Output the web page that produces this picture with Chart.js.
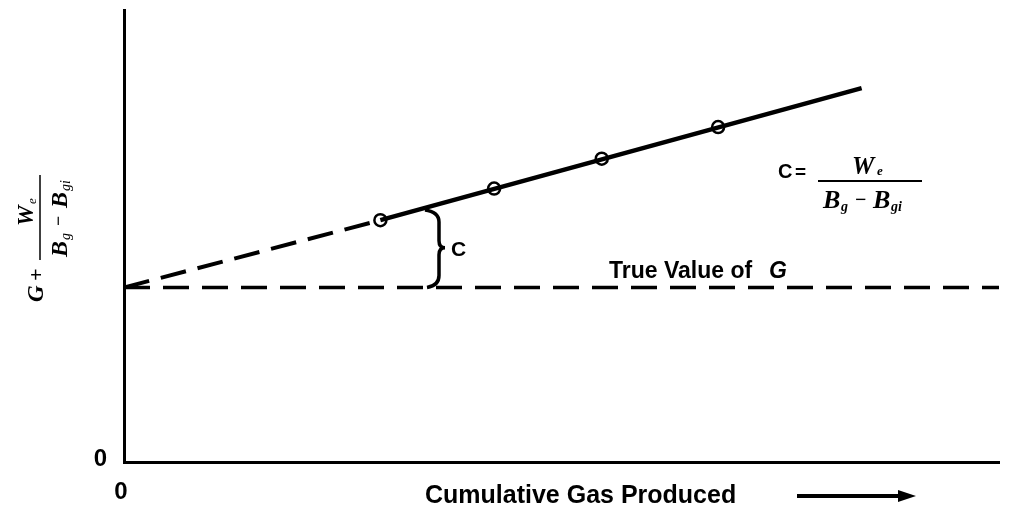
<!DOCTYPE html>
<html>
<head>
<meta charset="utf-8">
<script src="https://cdn.jsdelivr.net/npm/chart.js@4.4.0/dist/chart.umd.min.js"></script>
<style>
  html, body { margin: 0; padding: 0; background: #fff; }
  #wrap { width: 1009px; height: 510px; }
</style>
</head>
<body>
<div id="wrap"><canvas id="chart"></canvas></div>
<script>
// axis ranges (arbitrary units, only the zero is labelled)
var xRange = [0, 100];
var yRange = [0, 100];
var xTicks = [0];
var yTicks = [0];

// true value of G (horizontal dashed line)
var trueG = 38.6;
var trueGX = [0, 100];

// G + We/(Bg-Bgi) trend: extrapolated part (dashed) then measured part (solid)
var trendX = [0, 29.3, 84.3];
var trendY = [38.6, 53.5, 82.7];

// measured points
var pointX = [29.3, 42.3, 54.6, 67.9];
var pointY = [53.5, 60.5, 67.1, 74.1];

// where the C brace sits
var braceX = 34.4;

var sans = '"Liberation Sans", Arial, sans-serif';
var serif = '"Liberation Serif", "Times New Roman", serif';

function pts(xs, ys, from, to) {
    var out = [];
    for (var i = from; i <= to; i++) out.push({ x: xs[i], y: ys[i] });
    return out;
}

function txt(ctx, s, x, y, font) {
    ctx.font = font;
    ctx.fillText(s, x, y);
}

// value of the trend line at x (for the brace top)
function trendAt(x) {
    for (var i = 0; i < trendX.length - 1; i++) {
        if (x >= trendX[i] && x <= trendX[i + 1]) {
            var t = (x - trendX[i]) / (trendX[i + 1] - trendX[i]);
            return trendY[i] + t * (trendY[i + 1] - trendY[i]);
        }
    }
    return trendY[trendY.length - 1];
}

var extras = {
    id: 'extras',
    afterDraw: function (chart) {
        var ctx = chart.ctx;
        var xs = chart.scales.x, ys = chart.scales.y;
        ctx.save();
        ctx.fillStyle = '#000';
        ctx.strokeStyle = '#000';
        ctx.textBaseline = 'alphabetic';
        ctx.textAlign = 'left';

        // brace between the trend and the true G line
        var bx = xs.getPixelForValue(braceX);
        var yTop = ys.getPixelForValue(trendAt(braceX));
        var yBot = ys.getPixelForValue(trueG);
        var mid = (yTop + yBot) / 2;
        var sx = bx + 14;
        ctx.lineWidth = 3.5;
        ctx.beginPath();
        ctx.moveTo(bx, yTop + 2);
        ctx.quadraticCurveTo(sx, yTop + 4, sx, yTop + 14);
        ctx.lineTo(sx, mid - 7);
        ctx.quadraticCurveTo(sx, mid, sx + 6, mid);
        ctx.quadraticCurveTo(sx, mid, sx, mid + 7);
        ctx.lineTo(sx, yBot - 12);
        ctx.quadraticCurveTo(sx, yBot - 2, bx + 2, yBot);
        ctx.stroke();
        txt(ctx, 'C', sx + 12, mid + 8, 'bold 21px ' + sans);

        // label of the horizontal line
        txt(ctx, 'True Value of', 609, 278, 'bold 23px ' + sans);
        txt(ctx, 'G', 769, 278, 'italic bold 23px ' + sans);

        // formula for C
        txt(ctx, 'C', 778, 178, 'bold 20px ' + sans);
        txt(ctx, '=', 795, 178, 'bold 19px ' + sans);
        ctx.lineWidth = 2;
        ctx.beginPath();
        ctx.moveTo(818, 181);
        ctx.lineTo(922, 181);
        ctx.stroke();
        txt(ctx, 'W', 852, 174, 'italic bold 25px ' + serif);
        txt(ctx, 'e', 877, 175, 'italic bold 13px ' + serif);
        txt(ctx, 'B', 823, 208, 'italic bold 26px ' + serif);
        txt(ctx, 'g', 841, 211, 'italic bold 14px ' + serif);
        txt(ctx, '\u2212', 855, 206, 'bold 20px ' + serif);
        txt(ctx, 'B', 873, 208, 'italic bold 26px ' + serif);
        txt(ctx, 'gi', 891, 211, 'italic bold 14px ' + serif);

        // x axis title and arrow
        txt(ctx, 'Cumulative Gas Produced', 425, 503, 'bold 25px ' + sans);
        ctx.lineWidth = 4;
        ctx.beginPath();
        ctx.moveTo(797, 496);
        ctx.lineTo(902, 496);
        ctx.stroke();
        ctx.beginPath();
        ctx.moveTo(898, 490);
        ctx.lineTo(916, 496);
        ctx.lineTo(898, 502);
        ctx.closePath();
        ctx.fill();

        // y axis title, rotated: G + We / (Bg - Bgi)
        ctx.translate(40, 302);
        ctx.rotate(-Math.PI / 2);
        txt(ctx, 'G', 0, 3, 'italic bold 23px ' + serif);
        txt(ctx, '+', 21, 3, 'bold 22px ' + serif);
        ctx.lineWidth = 1.5;
        ctx.beginPath();
        ctx.moveTo(42, 0);
        ctx.lineTo(127, 0);
        ctx.stroke();
        txt(ctx, 'W', 76, -7, 'italic bold 23px ' + serif);
        txt(ctx, 'e', 98, -4, 'italic 13px ' + serif);
        txt(ctx, 'B', 45, 27, 'italic bold 24px ' + serif);
        txt(ctx, 'g', 62, 30, 'italic 14px ' + serif);
        txt(ctx, '\u2212', 76, 24, 'bold 18px ' + serif);
        txt(ctx, 'B', 94, 27, 'italic bold 24px ' + serif);
        txt(ctx, 'gi', 111, 30, 'italic 14px ' + serif);

        ctx.restore();
    }
};

var ctx = document.getElementById('chart');
var grafico = new Chart(ctx, {
    type: 'scatter',
    data: {
        datasets: [
            {
                label: 'True G',
                data: [{ x: trueGX[0], y: trueG }, { x: trueGX[1], y: trueG }],
                showLine: true,
                borderColor: '#000',
                borderWidth: 3.5,
                borderDash: [26, 13],
                pointRadius: 0
            },
            {
                label: 'Extrapolated',
                data: pts(trendX, trendY, 0, 1),
                showLine: true,
                borderColor: '#000',
                borderWidth: 4,
                borderDash: [26, 12],
                pointRadius: 0
            },
            {
                label: 'Measured trend',
                data: pts(trendX, trendY, 1, 2),
                showLine: true,
                borderColor: '#000',
                borderWidth: 4.5,
                pointRadius: 0
            },
            {
                label: 'Points',
                data: pts(pointX, pointY, 0, pointX.length - 1),
                showLine: false,
                pointRadius: 6,
                pointBorderWidth: 2.5,
                pointBackgroundColor: '#fff',
                pointBorderColor: '#000'
            }
        ]
    },
    options: {
        responsive: true,
        maintainAspectRatio: false,
        animation: false,
        layout: { padding: { left: 0, top: 10, right: 10, bottom: 0 } },
        plugins: {
            legend: { display: false },
            tooltip: { enabled: false }
        },
        scales: {
            x: {
                type: 'linear',
                min: xRange[0],
                max: xRange[1],
                grid: { display: false },
                border: { display: true, color: '#000', width: 3 },
                afterBuildTicks: function (scale) {
                    scale.ticks = xTicks.map(function (v) { return { value: v }; });
                },
                afterFit: function (scale) {
                    scale.height = 48;
                    scale.paddingLeft = 0;
                    scale.paddingRight = 0;
                },
                ticks: {
                    color: '#000',
                    font: { family: sans, size: 24, weight: 'bold' },
                    padding: 8,
                    labelOffset: -3,
                    maxRotation: 0
                }
            },
            y: {
                type: 'linear',
                min: yRange[0],
                max: yRange[1],
                grid: { display: false },
                border: { display: true, color: '#000', width: 3 },
                afterBuildTicks: function (scale) {
                    scale.ticks = yTicks.map(function (v) { return { value: v }; });
                },
                afterFit: function (scale) {
                    scale.width = 124;
                    scale.paddingTop = 0;
                    scale.paddingBottom = 0;
                },
                ticks: {
                    color: '#000',
                    font: { family: sans, size: 24, weight: 'bold' },
                    padding: 9,
                    labelOffset: -3
                }
            }
        }
    },
    plugins: [extras]
});
</script>
</body>
</html>
